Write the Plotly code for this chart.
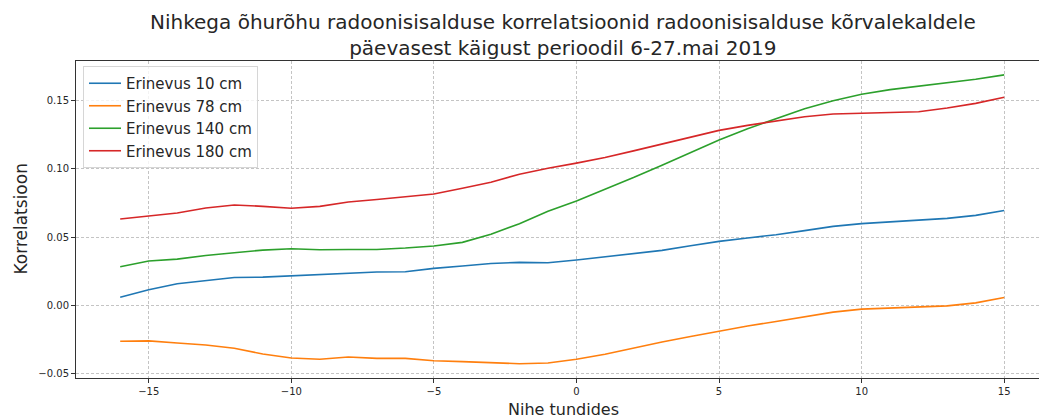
import plotly.graph_objects as go

shift_hours = list(range(-16, 16))

erinevus_10 = [0.0059, 0.0113, 0.0157, 0.0181, 0.0203, 0.0206, 0.0216, 0.0225, 0.0233, 0.0243,
               0.0245, 0.0270, 0.0287, 0.0306, 0.0314, 0.0311, 0.0331, 0.0353, 0.0375, 0.0402,
               0.0436, 0.0468, 0.0493, 0.0517, 0.0547, 0.0578, 0.0598, 0.0610, 0.0625, 0.0637,
               0.0659, 0.0694]
erinevus_78 = [-0.0265, -0.0262, -0.0277, -0.0292, -0.0316, -0.0358, -0.0387, -0.0397, -0.0380, -0.0390,
               -0.0390, -0.0407, -0.0414, -0.0424, -0.0429, -0.0424, -0.0397, -0.0360, -0.0314, -0.0270,
               -0.0230, -0.0189, -0.0152, -0.0120, -0.0086, -0.0051, -0.0029, -0.0022, -0.0017, -0.0005,
               0.0017, 0.0056]
erinevus_140 = [0.0282, 0.0324, 0.0338, 0.0365, 0.0385, 0.0404, 0.0414, 0.0407, 0.0409, 0.0409,
                0.0419, 0.0434, 0.0461, 0.0520, 0.0598, 0.0689, 0.0765, 0.0848, 0.0936, 0.1027,
                0.1120, 0.1211, 0.1294, 0.1370, 0.1441, 0.1500, 0.1547, 0.1581, 0.1605, 0.1630,
                0.1657, 0.1689]
erinevus_180 = [0.0632, 0.0652, 0.0676, 0.0713, 0.0735, 0.0725, 0.0711, 0.0725, 0.0757, 0.0775,
                0.0794, 0.0816, 0.0858, 0.0902, 0.0961, 0.1005, 0.1042, 0.1083, 0.1132, 0.1181,
                0.1235, 0.1282, 0.1319, 0.1353, 0.1382, 0.1402, 0.1407, 0.1409, 0.1419, 0.1446,
                0.1480, 0.1525]

series_names = ["Erinevus 10 cm", "Erinevus 78 cm", "Erinevus 140 cm", "Erinevus 180 cm"]
series_values = [erinevus_10, erinevus_78, erinevus_140, erinevus_180]
series_colors = ["#1f77b4", "#ff7f0e", "#2ca02c", "#d62728"]

x_ticks = [-15, -10, -5, 0, 5, 10, 15]
x_tick_labels = ["\u221215", "\u221210", "\u22125", "0", "5", "10", "15"]
y_ticks = [-0.05, 0.0, 0.05, 0.10, 0.15]
y_tick_labels = ["\u22120.05", "0.00", "0.05", "0.10", "0.15"]

title_text = ("Nihkega õhurõhu radoonisisalduse korrelatsioonid radoonisisalduse kõrvalekaldele"
              "<br>päevasest käigust perioodil 6-27.mai 2019")

FONT = "DejaVu Sans"

fig = go.Figure()
for i, (name, vals, col) in enumerate(zip(series_names, series_values, series_colors)):
    fig.add_trace(go.Scatter(x=shift_hours, y=vals, mode="lines", name=name,
                             legendgroup=f"g{i}",
                             line=dict(color=col, width=1.6)))

W, H = 1039, 418
L, T, B, R = 76, 61, 40, 0
plot_w = W - L - R
plot_h = H - T - B
center_x = (563 - L) / plot_w

grid_style = dict(showgrid=True, gridcolor="#c4c4c4", griddash="3px,2px", gridwidth=0.8)

fig.update_layout(
    width=W, height=H,
    margin=dict(l=L, r=R, t=T, b=B),
    paper_bgcolor="white", plot_bgcolor="white",
    font=dict(family=FONT, color="#262626"),
    showlegend=True,
    legend=dict(x=(83 - L) / plot_w, y=1 - (66 - T) / plot_h, xanchor="left", yanchor="top",
                bgcolor="rgba(255,255,255,0.8)", bordercolor="#d6d6d6", borderwidth=1,
                font=dict(family=FONT, size=15, color="#262626"),
                tracegroupgap=0, itemwidth=32),
    xaxis=dict(range=[-17.55, 16.22], tickmode="array", tickvals=x_ticks, ticktext=x_tick_labels,
               zeroline=False, showline=True, linecolor="#333333", linewidth=1, mirror=True,
               ticks="outside", ticklen=4, tickcolor="#333333",
               tickfont=dict(family=FONT, size=10, color="#262626"), **grid_style),
    yaxis=dict(range=[-0.0534, 0.1791], tickmode="array", tickvals=y_ticks, ticktext=y_tick_labels,
               zeroline=False, showline=True, linecolor="#333333", linewidth=1, mirror=False,
               ticks="outside", ticklen=4, tickcolor="#333333",
               tickfont=dict(family=FONT, size=10, color="#262626"), **grid_style),
    annotations=[
        dict(text=title_text, xref="paper", yref="paper", x=center_x, y=1 + (T - 8) / plot_h,
             xanchor="center", yanchor="top", showarrow=False,
             font=dict(family=FONT, size=20, color="#262626")),
        dict(text="Nihe tundides", xref="paper", yref="paper", x=center_x, y=-(398 - (H - B)) / plot_h,
             xanchor="center", yanchor="top", showarrow=False,
             font=dict(family=FONT, size=16, color="#262626")),
        dict(text="Korrelatsioon", xref="paper", yref="paper", x=-(L - 8) / plot_w, y=0.5,
             xanchor="left", yanchor="middle", showarrow=False, textangle=-90,
             font=dict(family=FONT, size=17, color="#262626")),
    ],
)

fig.write_html("out.html", config={"displayModeBar": False},
               post_script="document.body.style.margin='0';document.body.style.overflow='hidden';")
